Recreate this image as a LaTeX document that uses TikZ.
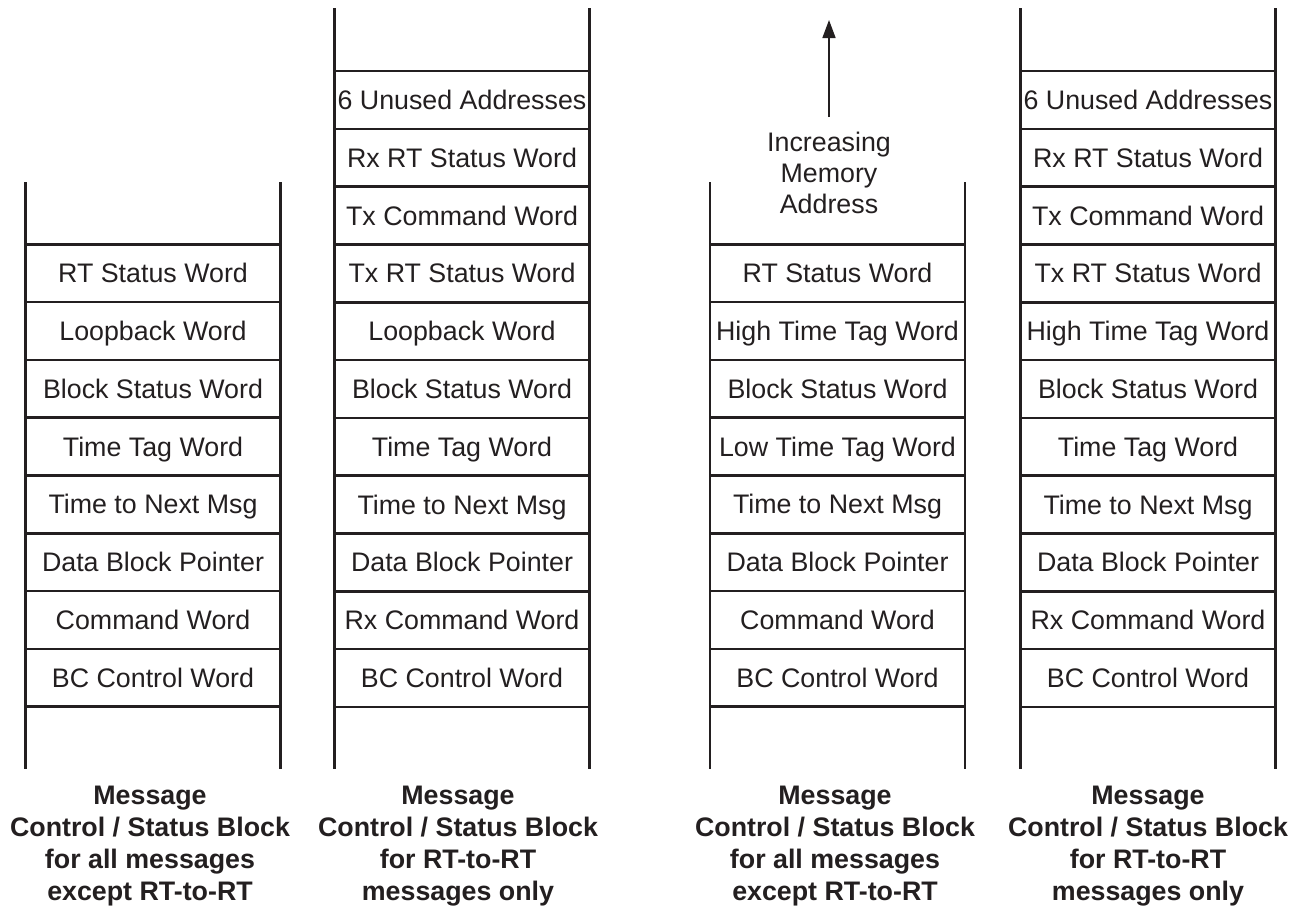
\documentclass[tikz,border=0pt]{standalone}
\usepackage{fontspec}
\setmainfont{Liberation Sans}
\usepackage{xcolor}
\usepackage{tikz}
\usetikzlibrary{positioning}
\usetikzlibrary{arrows.meta}
\pgfdeclarelayer{nodelayer}
\pgfdeclarelayer{edgelayer}
\pgfsetlayers{nodelayer,edgelayer,main}
\definecolor{ink}{HTML}{231F20}
\tikzset{
    none/.style = {inner sep=0pt},
    word/.style = {draw=ink, line width=1.3pt, text=ink, minimum width=127.5pt,
                   minimum height=28.9pt, inner sep=0pt, outer sep=0pt,
                   text height=9.6pt, text depth=0pt,
                   font=\fontsize{13.4}{15.5}\selectfont},
    caption/.style = {none, text=ink, align=center, font=\fontsize{13.4}{16}\selectfont\bfseries},
    rail/.style = {draw=ink, line width=1.3pt}
}

\begin{document}
\begin{tikzpicture}[x=0.5pt, y=-0.5pt]
  \useasboundingbox (0,0) rectangle (1297,912);
  \begin{pgfonlayer}{nodelayer}
    % all messages except RT-to-RT
    \node [word] (0) at (153, 273.1) {RT Status Word};
    \node [word, below=0pt of 0] (1) {Loopback Word};
    \node [word, below=0pt of 1] (2) {Block Status Word};
    \node [word, below=0pt of 2] (3) {Time Tag Word};
    \node [word, below=0pt of 3] (4) {Time to Next Msg};
    \node [word, below=0pt of 4] (5) {Data Block Pointer};
    \node [word, below=0pt of 5] (6) {Command Word};
    \node [word, below=0pt of 6] (7) {BC Control Word};
    % RT-to-RT only
    \node [word] (8) at (462, 99.9) {6 Unused Addresses};
    \node [word, below=0pt of 8] (9) {Rx RT Status Word};
    \node [word, below=0pt of 9] (10) {Tx Command Word};
    \node [word, below=0pt of 10] (11) {Tx RT Status Word};
    \node [word, below=0pt of 11] (12) {Loopback Word};
    \node [word, below=0pt of 12] (13) {Block Status Word};
    \node [word, below=0pt of 13] (14) {Time Tag Word};
    \node [word, below=0pt of 14] (15) {Time to Next Msg};
    \node [word, below=0pt of 15] (16) {Data Block Pointer};
    \node [word, below=0pt of 16] (17) {Rx Command Word};
    \node [word, below=0pt of 17] (18) {BC Control Word};
    % all messages except RT-to-RT, two time tag words
    \node [word] (19) at (837.5, 273.1) {RT Status Word};
    \node [word, below=0pt of 19] (20) {High Time Tag Word};
    \node [word, below=0pt of 20] (21) {Block Status Word};
    \node [word, below=0pt of 21] (22) {Low Time Tag Word};
    \node [word, below=0pt of 22] (23) {Time to Next Msg};
    \node [word, below=0pt of 23] (24) {Data Block Pointer};
    \node [word, below=0pt of 24] (25) {Command Word};
    \node [word, below=0pt of 25] (26) {BC Control Word};
    % RT-to-RT only, two time tag words
    \node [word] (27) at (1148, 99.9) {6 Unused Addresses};
    \node [word, below=0pt of 27] (28) {Rx RT Status Word};
    \node [word, below=0pt of 28] (29) {Tx Command Word};
    \node [word, below=0pt of 29] (30) {Tx RT Status Word};
    \node [word, below=0pt of 30] (31) {High Time Tag Word};
    \node [word, below=0pt of 31] (32) {Block Status Word};
    \node [word, below=0pt of 32] (33) {Time Tag Word};
    \node [word, below=0pt of 33] (34) {Time to Next Msg};
    \node [word, below=0pt of 34] (35) {Data Block Pointer};
    \node [word, below=0pt of 35] (36) {Rx Command Word};
    \node [word, below=0pt of 36] (37) {BC Control Word};
    % captions
    \node [caption] (38) at (150, 846) {Message\\Control / Status Block\\for all messages\\except RT-to-RT};
    \node [caption] (39) at (458, 846) {Message\\Control / Status Block\\for RT-to-RT\\messages only};
    \node [caption] (40) at (835, 846) {Message\\Control / Status Block\\for all messages\\except RT-to-RT};
    \node [caption] (41) at (1148, 846) {Message\\Control / Status Block\\for RT-to-RT\\messages only};
    \node [none, outer sep=7.5pt, text=ink, align=center, font=\fontsize{13.4}{15.5}\selectfont] (42) at (829, 173) {Increasing\\Memory\\Address};
    \coordinate (43) at (829, 20);
  \end{pgfonlayer}
  \begin{pgfonlayer}{edgelayer}
    \draw [rail] ([yshift=31pt]0.north west) -- ([yshift=-31pt]7.south west);
    \draw [rail] ([yshift=31pt]0.north east) -- ([yshift=-31pt]7.south east);
    \draw [rail] ([yshift=31.5pt]8.north west) -- ([yshift=-31pt]18.south west);
    \draw [rail] ([yshift=31.5pt]8.north east) -- ([yshift=-31pt]18.south east);
    \draw [rail] ([yshift=31pt]19.north west) -- ([yshift=-31pt]26.south west);
    \draw [rail] ([yshift=31pt]19.north east) -- ([yshift=-31pt]26.south east);
    \draw [rail] ([yshift=31.5pt]27.north west) -- ([yshift=-31pt]37.south west);
    \draw [rail] ([yshift=31.5pt]27.north east) -- ([yshift=-31pt]37.south east);
    \draw [draw=ink, line width=0.8pt, -{Triangle[length=9pt, width=6.5pt]}] (42) -- (43);
  \end{pgfonlayer}
\end{tikzpicture}
\end{document}
